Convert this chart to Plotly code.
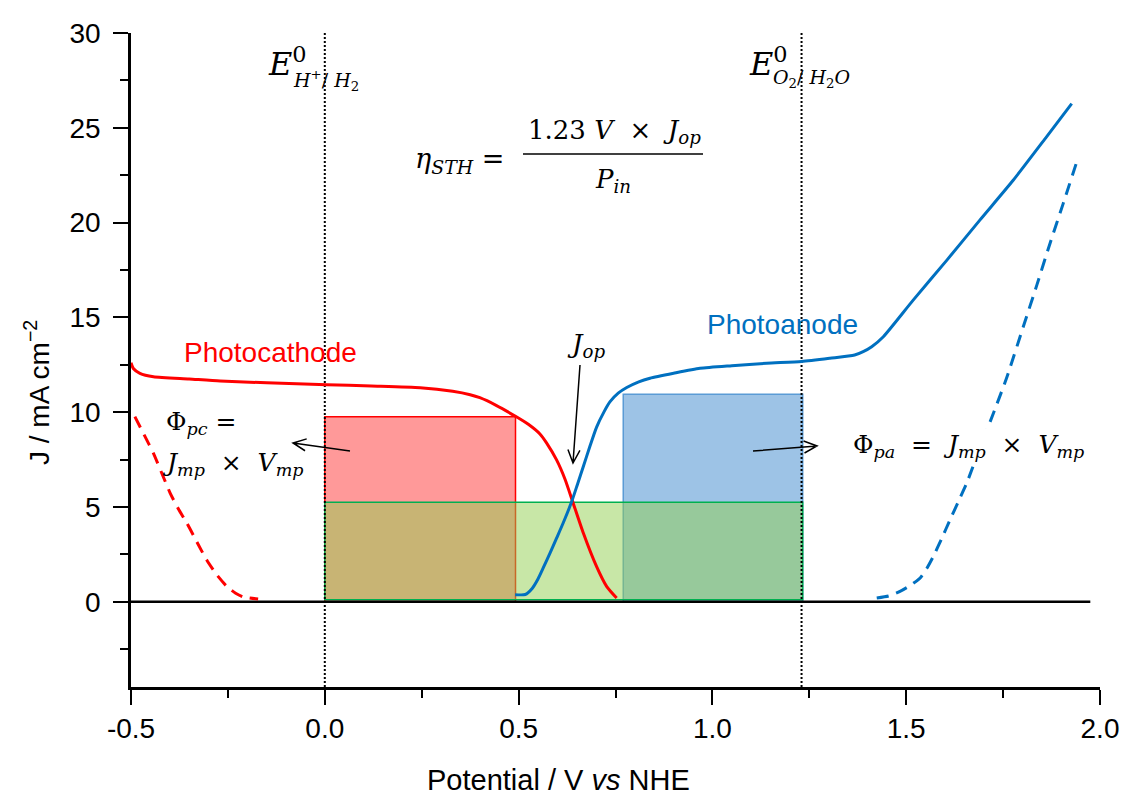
import plotly.graph_objects as go
import math

# ---------------- data ----------------
cathode_v = [-0.500, -0.494, -0.477, -0.442, -0.35, -0.27, -0.15, 0.005, 0.12, 0.246, 0.33,
             0.375, 0.40, 0.442, 0.492, 0.525, 0.555, 0.572, 0.598, 0.620, 0.640, 0.667,
             0.701, 0.727, 0.753]
cathode_j = [12.6, 12.3, 12.05, 11.87, 11.75, 11.64, 11.55, 11.45, 11.38, 11.29, 11.10,
             10.92, 10.76, 10.36, 9.78, 9.36, 8.85, 8.38, 7.48, 6.45, 5.25, 3.62,
             1.86, 0.81, 0.19]

anode_v = [0.491, 0.517, 0.535, 0.550, 0.565, 0.581, 0.598, 0.615, 0.637, 0.652, 0.667,
           0.684, 0.701, 0.720, 0.736, 0.757, 0.779, 0.810, 0.839, 0.900, 0.968, 1.050,
           1.140, 1.230, 1.303, 1.367, 1.389, 1.411, 1.441, 1.518, 1.605, 1.690, 1.776,
           1.862, 1.927]
anode_j = [0.37, 0.38, 0.70, 1.20, 1.85, 2.56, 3.35, 4.15, 5.28, 6.20, 7.13,
           8.20, 9.20, 10.00, 10.55, 11.0, 11.30, 11.60, 11.79, 12.05, 12.31, 12.45,
           12.58, 12.67, 12.84, 13.01, 13.19, 13.45, 13.98, 15.91, 18.02, 20.13, 22.23,
           24.52, 26.27]

dark_cathode_v = [-0.490, -0.466, -0.442, -0.420, -0.399, -0.378, -0.356, -0.330, -0.305,
                  -0.280, -0.253, -0.230, -0.210, -0.172]
dark_cathode_j = [9.76, 8.80, 7.83, 6.75, 5.73, 4.90, 4.15, 3.15, 2.21,
                  1.45, 0.81, 0.45, 0.25, 0.14]

dark_anode_v = [1.424, 1.455, 1.484, 1.510, 1.536, 1.553, 1.570, 1.592, 1.613, 1.635,
                1.656, 1.690, 1.725, 1.759, 1.802, 1.837, 1.871, 1.905, 1.940]
dark_anode_j = [0.19, 0.30, 0.54, 0.85, 1.25, 1.75, 2.39, 3.35, 4.32, 5.30,
                6.25, 8.10, 9.94, 11.80, 14.50, 16.70, 18.90, 21.00, 23.20]

# power rectangles: (V start, V end, J top)
pc_rect = (0.0, 0.492, 9.76)
pa_rect = (0.770, 1.233, 10.94)
op_rect = (0.0, 1.233, 5.25)

e_h2 = 0.0      # E0 H+/H2
e_o2 = 1.23     # E0 O2/H2O

x_tick_vals = [-0.5, 0.0, 0.5, 1.0, 1.5, 2.0]
x_tick_text = ["-0.5", "0.0", "0.5", "1.0", "1.5", "2.0"]
y_tick_vals = [0, 5, 10, 15, 20, 25, 30]
y_tick_text = ["0", "5", "10", "15", "20", "25", "30"]

RED = "#FF0000"
BLUE = "#0070C0"
SANS = "Liberation Sans, Arial, sans-serif"
SERIF = "DejaVu Serif, serif"

# ---------------- figure ----------------
fig = go.Figure()

fig.add_trace(go.Scatter(x=dark_cathode_v, y=dark_cathode_j, mode="lines",
                         line=dict(color=RED, width=3, dash="12px,8px", shape="spline", smoothing=0.6),
                         hoverinfo="skip", showlegend=False))
fig.add_trace(go.Scatter(x=dark_anode_v, y=dark_anode_j, mode="lines",
                         line=dict(color=BLUE, width=3, dash="12px,8px", shape="spline", smoothing=0.6),
                         hoverinfo="skip", showlegend=False))
fig.add_trace(go.Scatter(x=cathode_v, y=cathode_j, mode="lines",
                         line=dict(color=RED, width=3, shape="spline", smoothing=0.6),
                         hoverinfo="skip", showlegend=False))
fig.add_trace(go.Scatter(x=anode_v, y=anode_j, mode="lines",
                         line=dict(color=BLUE, width=3, shape="spline", smoothing=0.6),
                         hoverinfo="skip", showlegend=False))

# rectangles (order: red, blue, green on top)
fig.add_shape(type="rect", xref="x", yref="y", x0=pc_rect[0], x1=pc_rect[1], y0=0, y1=pc_rect[2],
              fillcolor="rgba(255,0,0,0.4)", line=dict(color=RED, width=1.5), layer="below")
fig.add_shape(type="rect", xref="x", yref="y", x0=pa_rect[0], x1=pa_rect[1], y0=0, y1=pa_rect[2],
              fillcolor="rgba(91,155,213,0.6)", line=dict(color="#5B9BD5", width=1.5), layer="below")
fig.add_shape(type="rect", xref="x", yref="y", x0=op_rect[0], x1=op_rect[1], y0=0.1, y1=op_rect[2],
              fillcolor="rgba(146,208,80,0.5)", line=dict(color="#00B050", width=1.5), layer="below")

# dotted redox potential lines
for ev in (e_h2, e_o2):
    fig.add_shape(type="line", xref="x", yref="y", x0=ev, x1=ev, y0=-4.5, y1=30,
                  line=dict(color="black", width=2, dash="2px,2px"), layer="below")

# zero line
fig.add_shape(type="line", xref="x", yref="y", x0=-0.5, x1=1.975, y0=0, y1=0,
              line=dict(color="black", width=2.5), layer="below")

# ---------------- pixel helpers for decorations ----------------
L, R, T, B = 131, 1100, 33, 687
def px(xp, yp):
    return ((xp - L) / (R - L), (B - yp) / (B - T))

def arrow(tail, head, wing=13, half=6):
    tx, ty = tail
    hx, hy = head
    dx, dy = hx - tx, hy - ty
    n = math.hypot(dx, dy)
    ux, uy = dx / n, dy / n
    w1 = (hx - wing * ux - half * uy, hy - wing * uy + half * ux)
    w2 = (hx - wing * ux + half * uy, hy - wing * uy - half * ux)
    pts = [px(*tail), px(*head), px(*w1), px(*w2)]
    p = "M{0[0]},{0[1]} L{1[0]},{1[1]} M{2[0]},{2[1]} L{1[0]},{1[1]} L{3[0]},{3[1]}".format(*pts)
    fig.add_shape(type="path", xref="paper", yref="paper", path=p,
                  line=dict(color="black", width=1.5))

arrow((350, 451), (293, 443))
arrow((580, 365), (573, 463))
arrow((753, 451), (817, 446))

# fraction bar
fx0, fy = px(523, 154)
fx1, _ = px(703, 154)
fig.add_shape(type="line", xref="paper", yref="paper", x0=fx0, x1=fx1, y0=fy, y1=fy,
              line=dict(color="black", width=1.5))

def ann(text, xp, yp, size, color="black", family=SERIF, xanchor="center", yanchor="middle", **kw):
    x, y = px(xp, yp)
    fig.add_annotation(text=text, x=x, y=y, xref="paper", yref="paper", showarrow=False,
                       xanchor=xanchor, yanchor=yanchor,
                       font=dict(family=family, size=size, color=color), **kw)

ann("Photocathode", 270, 352, 28, RED, SANS)
ann("Photoanode", 782, 325, 28, BLUE, SANS)
ann("<i>J</i><sub><i>op</i></sub>", 586, 345, 26)
ann("Φ<sub><i>pc</i></sub> =", 164, 423, 25, xanchor="left")
ann("<i>J</i><sub><i>mp</i></sub>  ×  <i>V</i><sub><i>mp</i></sub>", 160, 464, 25, xanchor="left")
ann("Φ<sub><i>pa</i></sub>  =  <i>J</i><sub><i>mp</i></sub>  ×  <i>V</i><sub><i>mp</i></sub>", 851, 446, 25,
    xanchor="left", bgcolor="white")

# E0 labels
ann("<i>E</i><sup>0</sup>", 287, 62, 32)
ann("<i>H</i><sup>+</sup>/ <i>H</i><sub>2</sub>", 291, 80, 19, xanchor="left")
ann("<i>E</i><sup>0</sup>", 768, 62, 32)
ann("<i>O</i><sub>2</sub>/ <i>H</i><sub>2</sub><i>O</i>", 771, 78, 19, xanchor="left")

# efficiency formula
ann("<i>η</i><sub><i>STH</i></sub> =", 506, 160, 27, xanchor="right")
ann("1.23 <i>V</i>  ×  <i>J</i><sub><i>op</i></sub>", 614, 131, 26)
ann("<i>P</i><sub><i>in</i></sub>", 613, 180, 26)

# axis titles
ann("Potential / V <i>vs</i> NHE", 558, 780, 29, "black", SANS)
ann("J / mA cm<sup>−2</sup>", 37, 393, 28, "black", SANS, textangle=-90)

fig.update_layout(
    width=1123, height=796,
    margin=dict(l=L, r=1123 - R, t=T, b=796 - B, autoexpand=False),
    paper_bgcolor="white", plot_bgcolor="white",
    showlegend=False,
    xaxis=dict(range=[-0.5, 2.0], showgrid=False, zeroline=False, automargin=False,
               showline=True, linecolor="black", linewidth=2.5,
               ticks="outside", ticklen=15, tickwidth=2, tickcolor="black",
               tickmode="array", tickvals=x_tick_vals, ticktext=x_tick_text,
               ticklabelstandoff=0,
               tickfont=dict(family=SANS, size=28, color="black"),
               minor=dict(ticks="outside", ticklen=8, tickwidth=2, tickcolor="black",
                          dtick=0.25, tick0=-0.5, showgrid=False)),
    yaxis=dict(range=[-4.5, 30], showgrid=False, zeroline=False, automargin=False,
               showline=True, linecolor="black", linewidth=2.5,
               ticks="outside", ticklen=15, tickwidth=2, tickcolor="black",
               tickmode="array", tickvals=y_tick_vals, ticktext=y_tick_text,
               ticklabelstandoff=7,
               tickfont=dict(family=SANS, size=28, color="black"),
               minor=dict(ticks="outside", ticklen=8, tickwidth=2, tickcolor="black",
                          dtick=2.5, tick0=0, showgrid=False)),
)

fig.write_html("out.html", config={"displayModeBar": False},
               post_script="document.body.style.margin='0px';document.body.style.overflow='hidden';")
